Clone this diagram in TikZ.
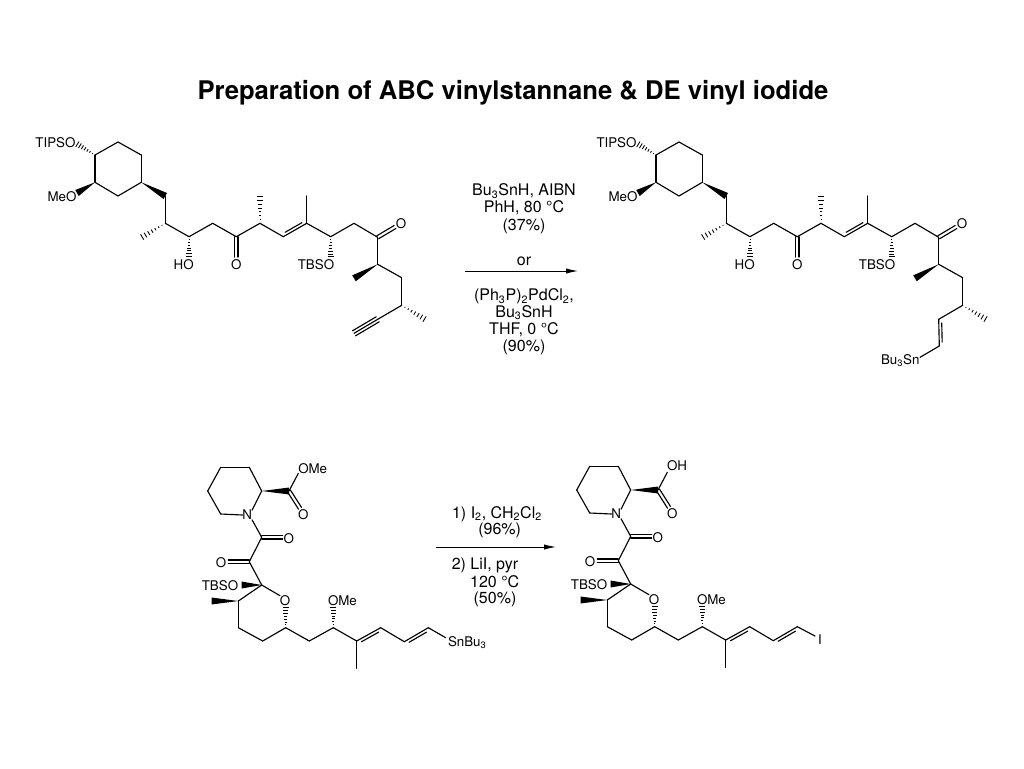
\documentclass[tikz,border=0pt]{standalone}
\usepackage{fontspec}
\setmainfont{TeX Gyre Heros}
\usetikzlibrary{calc,arrows.meta}
\tikzset{
  bond/.style={line width=0.85pt,line cap=round,line join=round,black},
  hashline/.style={line width=0.65pt,black},
  atom/.style={font=\fontsize{10}{12}\selectfont,inner sep=0pt,outer sep=0pt,text=black,anchor=center},
  rxn/.style={font=\fontsize{12}{14}\selectfont,inner sep=0pt,outer sep=0pt,text=black,anchor=center},
  rxnarrow/.style={line width=0.7pt,-{Latex[length=9pt,width=4pt]}},
  titletext/.style={font=\bfseries\fontsize{19.25}{23}\selectfont,inner sep=0pt,text=black}
}
\newcommand{\bd}[2]{\draw[bond] (#1) -- (#2);}
% solid wedge: narrow at #1, wide at #2
\newcommand{\wdg}[2]{\fill[black] (#1) -- ($(#2)!2.6pt!90:(#1)$) -- ($(#2)!2.6pt!-90:(#1)$) -- cycle;}
% hashed wedge: narrow at #1, wide at #2
\newcommand{\hsh}[2]{%
  \coordinate (hA) at ($(#2)!2.4pt!90:(#1)$);
  \coordinate (hB) at ($(#2)!2.4pt!-90:(#1)$);
  \foreach \t in {0.14,0.28,0.42,0.56,0.70,0.84,0.98}
    {\draw[hashline] ($(#1)!\t!(hA)$) -- ($(#1)!\t!(hB)$);}}
% centred double bond
\newcommand{\dbc}[2]{%
  \draw[bond] ($(#1)!1.3pt!90:(#2)$) -- ($(#2)!1.3pt!-90:(#1)$);
  \draw[bond] ($(#1)!1.3pt!-90:(#2)$) -- ($(#2)!1.3pt!90:(#1)$);}
% one-sided double bond: second line on the side #3 (90 or -90)
\newcommand{\dbs}[3]{%
  \draw[bond] (#1) -- (#2);
  \coordinate (dA) at ($(#1)!0.14!(#2)$);
  \coordinate (dB) at ($(#2)!0.14!(#1)$);
  \draw[bond] ($(dA)!2.2pt!#3:(#2)$) -- ($(dB)!2.2pt!-#3:(#1)$);}

% upper substrate skeleton, prefix #1
\newcommand{\molA}[1]{%
  \coordinate (#1c1) at (95,155);
  \coordinate (#1c2) at (118,142);
  \coordinate (#1c3) at (141.3,155);
  \coordinate (#1c4) at (141.3,182.3);
  \coordinate (#1c5) at (118,196);
  \coordinate (#1c6) at (95,182.3);
  \coordinate (#1o1) at (77,144);
  \coordinate (#1o2) at (77,193);
  \coordinate (#1c7) at (165.3,196);
  \coordinate (#1c8) at (165.3,223.3);
  \coordinate (#1m8) at (141.7,237.3);
  \coordinate (#1c9) at (189,236.7);
  \coordinate (#1o9) at (189,257);
  \coordinate (#1c10) at (212.7,223.3);
  \coordinate (#1c11) at (236.3,236.7);
  \coordinate (#1o11) at (236.3,257);
  \coordinate (#1c12) at (260,223.3);
  \coordinate (#1m12) at (260,196);
  \coordinate (#1c13) at (283.3,236.7);
  \coordinate (#1c14) at (306.7,223.3);
  \coordinate (#1m14) at (306.7,196);
  \coordinate (#1c15) at (330.7,236.7);
  \coordinate (#1o15) at (330.7,257.3);
  \coordinate (#1c16) at (354,223.3);
  \coordinate (#1c17) at (377.7,237.3);
  \coordinate (#1o17) at (395,227);
  \coordinate (#1c18) at (377.7,264.3);
  \coordinate (#1m18) at (354,278.3);
  \coordinate (#1c19) at (401.7,277.7);
  \coordinate (#1c20) at (401.7,305.3);
  \coordinate (#1m20) at (425,319.3);
  \coordinate (#1c21) at (377.7,319.3);
  \bd{#1c1}{#1c2}\bd{#1c2}{#1c3}\bd{#1c3}{#1c4}\bd{#1c4}{#1c5}\bd{#1c5}{#1c6}\bd{#1c6}{#1c1}
  \hsh{#1c1}{#1o1}\wdg{#1c6}{#1o2}\wdg{#1c4}{#1c7}
  \bd{#1c7}{#1c8}\hsh{#1c8}{#1m8}\bd{#1c8}{#1c9}\hsh{#1c9}{#1o9}
  \bd{#1c9}{#1c10}\bd{#1c10}{#1c11}\dbc{#1c11}{#1o11}\bd{#1c11}{#1c12}
  \hsh{#1c12}{#1m12}\bd{#1c12}{#1c13}\dbs{#1c13}{#1c14}{90}\bd{#1c14}{#1m14}
  \bd{#1c14}{#1c15}\hsh{#1c15}{#1o15}\bd{#1c15}{#1c16}\bd{#1c16}{#1c17}
  \dbc{#1c17}{#1o17}\bd{#1c17}{#1c18}\wdg{#1c18}{#1m18}\bd{#1c18}{#1c19}
  \bd{#1c19}{#1c20}\hsh{#1c20}{#1m20}
  \node[atom] (#1tips) at (55.5,143) {TIPSO};
  \node[atom] (#1meo) at (62,197) {MeO};
  \node[atom] (#1ho) at (183.7,265) {HO};
  \node[atom] (#1oa) at (236.3,265) {O};
  \node[atom] (#1tbs) at (316,265) {TBSO};
  \node[atom] (#1ob) at (401,224) {O};
}
% lower skeleton, prefix #1
\newcommand{\molB}[1]{%
  \coordinate (#1a1) at (261.7,491);
  \coordinate (#1a2) at (249.3,467.3);
  \coordinate (#1a3) at (220.7,467.3);
  \coordinate (#1a4) at (207.7,491);
  \coordinate (#1a5) at (220.7,514);
  \node[atom] (#1n) at (247.3,515) {N};
  \coordinate (#1ce) at (289,491);
  \coordinate (#1oe) at (298.3,473.3);
  \coordinate (#1od) at (300,508.3);
  \coordinate (#1k1) at (261.7,537.3);
  \coordinate (#1ok1) at (282.7,537.3);
  \coordinate (#1k2) at (249.3,561.7);
  \coordinate (#1ok2) at (228.3,561.7);
  \coordinate (#1q) at (261.7,585);
  \coordinate (#1qo) at (241.7,585);
  \coordinate (#1ro) at (280,595.7);
  \coordinate (#1r1) at (285.7,627.7);
  \coordinate (#1ro2) at (285.7,607.5);
  \coordinate (#1r2) at (262.7,641);
  \coordinate (#1r3) at (238.3,627.7);
  \coordinate (#1r4) at (238.3,601);
  \coordinate (#1r4m) at (211.7,601);
  \coordinate (#1s1) at (309.3,641);
  \coordinate (#1s2) at (333.3,627.7);
  \coordinate (#1s2o) at (333.3,606.7);
  \coordinate (#1s3) at (356.7,641);
  \coordinate (#1s3m) at (356.7,668.3);
  \coordinate (#1s4) at (380.7,627.7);
  \coordinate (#1s5) at (404.3,641.7);
  \coordinate (#1s6) at (428.3,627.7);
  \bd{#1a1}{#1a2}\bd{#1a2}{#1a3}\bd{#1a3}{#1a4}\bd{#1a4}{#1a5}
  \draw[bond] (#1a5) -- (#1n.west);
  \draw[bond] (#1a1) -- (#1n.north east);
  \wdg{#1a1}{#1ce}\bd{#1ce}{#1oe}\dbc{#1ce}{#1od}
  \draw[bond] (#1n.south east) -- (#1k1);
  \dbc{#1k1}{#1ok1}\bd{#1k1}{#1k2}\dbc{#1k2}{#1ok2}\bd{#1k2}{#1q}
  \wdg{#1q}{#1qo}\bd{#1q}{#1ro}\hsh{#1r1}{#1ro2}\bd{#1r1}{#1r2}\bd{#1r2}{#1r3}\bd{#1r3}{#1r4}\bd{#1r4}{#1q}
  \wdg{#1r4}{#1r4m}\bd{#1r1}{#1s1}\bd{#1s1}{#1s2}\hsh{#1s2}{#1s2o}\bd{#1s2}{#1s3}
  \bd{#1s3}{#1s3m}\dbs{#1s3}{#1s4}{-90}\bd{#1s4}{#1s5}\dbs{#1s5}{#1s6}{-90}
  \node[atom] (#1ot) at (303.3,515) {O};
  \node[atom] (#1ou) at (288.7,538.3) {O};
  \node[atom] (#1ov) at (221,562.3) {O};
  \node[atom] (#1tb) at (220,585.7) {TBSO};
  \node[atom] (#1oring) at (285,600.7) {O};
  \node[atom,anchor=west] (#1ome) at (328,601) {OMe};
}
\begin{document}
\begin{tikzpicture}[x=0.75pt,y=-0.75pt]
\useasboundingbox (0,0) rectangle (1024,768);
\node[titletext] (title) at (513,93) {Preparation of ABC vinylstannane \& DE vinyl iodide};

% upper substrate
\molA{p}
\coordinate (palk) at (354,333.3);
\draw[bond] (pc20) -- (pc21);
\draw[bond] (pc21) -- (palk);
\draw[bond] ($(pc21)!2.2pt!90:(palk)$) -- ($(palk)!2.2pt!-90:(pc21)$);
\draw[bond] ($(pc21)!2.2pt!-90:(palk)$) -- ($(palk)!2.2pt!90:(pc21)$);

% upper product
\begin{scope}[shift={(561,0)}]
\molA{u}
\coordinate (uvin) at (378.3,346);
\coordinate (usn) at (359,357.3);
\draw[bond] (uc20) -- (uc21);
\dbs{uc21}{uvin}{90}
\bd{uvin}{usn}
\node[atom,anchor=east] (ubu) at (358.5,360.8) {Bu\textsubscript{3}Sn};
\end{scope}

% upper arrow and reagents
\coordinate (ra1) at (465,271);
\coordinate (ra2) at (578,271);
\draw[rxnarrow] (ra1) -- (ra2);
\node[rxn] (r1a) at (524,191) {Bu\textsubscript{3}SnH, AIBN};
\node[rxn] (r1b) at (524,208) {PhH, 80 °C};
\node[rxn] (r1c) at (524,226) {(37\%)};
\node[rxn] (r1d) at (524,261) {or};
\node[rxn] (r1e) at (524,296.5) {(Ph\textsubscript{3}P)\textsubscript{2}PdCl\textsubscript{2},};
\node[rxn] (r1f) at (524,312.5) {Bu\textsubscript{3}SnH};
\node[rxn] (r1g) at (524,329.5) {THF, 0 °C};
\node[rxn] (r1h) at (524,347) {(90\%)};

% lower substrate
\molB{a}
\coordinate (asn) at (445.7,637.7);
\bd{as6}{asn}
\node[atom] (ameo) at (312.7,468.3) {OMe};
\node[atom,anchor=west] (asnb) at (448,642.5) {SnBu\textsubscript{3}};

% lower product
\begin{scope}[shift={(369,-1)}]
\molB{b}
\coordinate (bi) at (446,637);
\bd{bs6}{bi}
\node[atom] (boh) at (308,467) {OH};
\node[atom,anchor=west] (bio) at (449,641) {I};
\end{scope}

% lower arrow and reagents
\coordinate (rb1) at (436,547);
\coordinate (rb2) at (556,547);
\draw[rxnarrow] (rb1) -- (rb2);
\node[rxn] (r2a) at (497,514) {1) I\textsubscript{2}, CH\textsubscript{2}Cl\textsubscript{2}};
\node[rxn] (r2b) at (499.7,530) {(96\%)};
\node[rxn] (r2c) at (485,565) {2) LiI, pyr};
\node[rxn] (r2d) at (494.7,582) {120 °C};
\node[rxn] (r2e) at (495,599) {(50\%)};
\end{tikzpicture}
\end{document}
